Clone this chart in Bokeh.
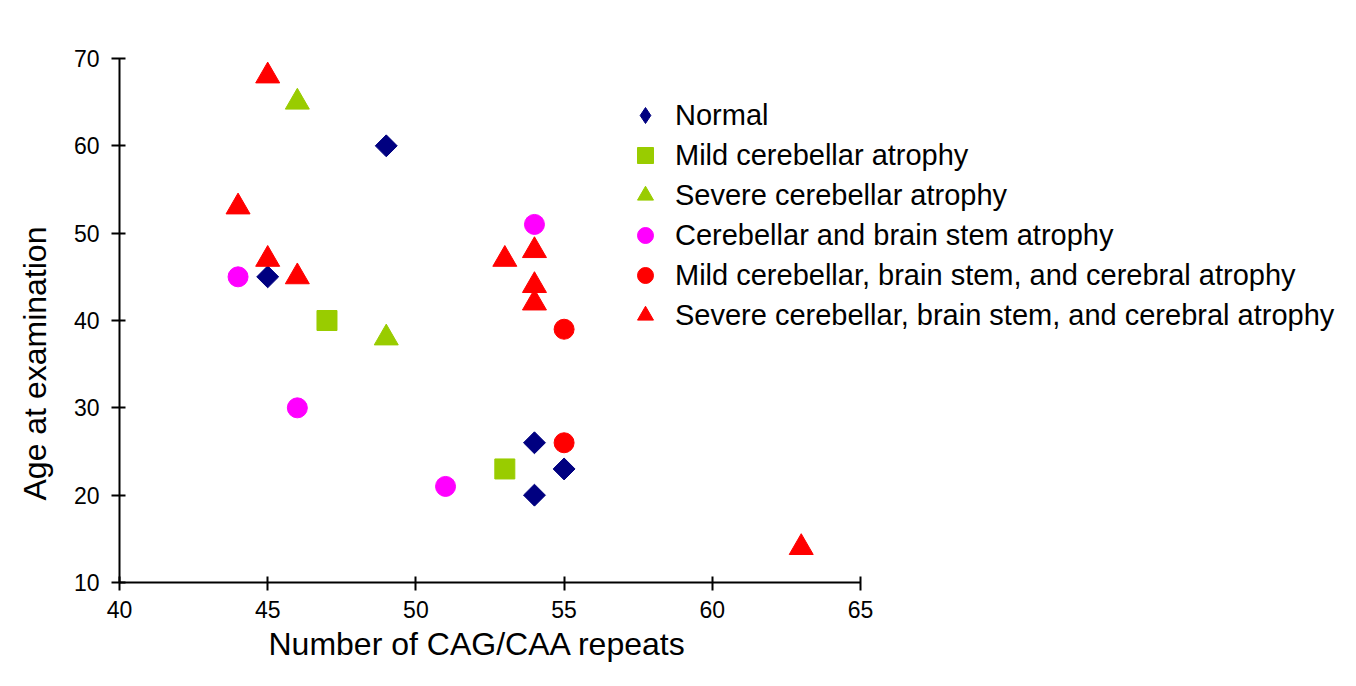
import math
from bokeh.plotting import figure
from bokeh.models import Range1d, FixedTicker, Legend, LegendItem, Title
from bokeh.embed import file_html
from bokeh.resources import INLINE

# Data
series_names = [
    "Normal",
    "Mild cerebellar atrophy",
    "Severe cerebellar atrophy",
    "Cerebellar and brain stem atrophy",
    "Mild cerebellar, brain stem, and cerebral atrophy",
    "Severe cerebellar, brain stem, and cerebral atrophy",
]
normal_x = [49, 45, 54, 55, 54]
normal_y = [60, 45, 26, 23, 20]
mild_cb_x = [47, 53]
mild_cb_y = [40, 23]
severe_cb_x = [46, 49]
severe_cb_y = [65, 38]
cb_bs_x = [44, 54, 46, 51]
cb_bs_y = [45, 51, 30, 21]
mild_all_x = [55, 55]
mild_all_y = [39, 26]
severe_all_x = [45, 44, 45, 46, 53, 54, 54, 54, 63]
severe_all_y = [68, 53, 47, 45, 47, 48, 44, 42, 14]

x_ticks = [40, 45, 50, 55, 60, 65]
y_ticks = [10, 20, 30, 40, 50, 60, 70]
x_axis_bounds = (40, 65)
x_label = "Number of CAG/CAA repeats"
y_label = "Age at examination"

FONT = "Liberation Sans"

W, H = 1340, 670
LEFT, TOP, BOTTOM, RIGHT = 119, 58, 88, 0
# keep 25 units over 741 px for the axis, frame extends to the right for the legend
px_per_unit = 741 / 25
x_end = 40 + (W - LEFT - RIGHT) / px_per_unit

p = figure(width=W, height=H, output_backend="svg", toolbar_location=None,
           x_range=Range1d(40, x_end), y_range=Range1d(10, 70),
           min_border_left=LEFT, min_border_right=RIGHT, min_border_top=TOP,
           min_border_bottom=BOTTOM)
p.outline_line_color = None
p.xgrid.visible = False
p.ygrid.visible = False
p.background_fill_color = "white"
p.border_fill_color = "white"

for ax, ticks in ((p.xaxis, x_ticks), (p.yaxis, y_ticks)):
    ax.ticker = FixedTicker(ticks=ticks)
    ax.minor_tick_line_color = None
    ax.axis_line_width = 2
    ax.axis_line_color = "black"
    ax.major_tick_line_width = 2
    ax.major_tick_line_color = "black"
    ax.major_tick_in = 6
    ax.major_tick_out = 8
    ax.major_label_text_font = FONT
    ax.major_label_text_font_size = "23px"
    ax.major_label_text_color = "black"

p.xaxis.bounds = x_axis_bounds
p.xaxis.major_label_standoff = 10
p.yaxis.major_label_standoff = 12

# axis titles placed as Titles so they can be offset like the reference
xt = Title(text=x_label, align="left", offset=149, standoff=6, vertical_align="bottom",
           text_font=FONT, text_font_size="32px", text_font_style="normal",
           text_color="black")
p.add_layout(xt, "below")
yt = Title(text=y_label, align="left", offset=82, standoff=31, vertical_align="top",
           text_font=FONT, text_font_size="32px", text_font_style="normal",
           text_color="black")
p.add_layout(yt, "left")

# legend proxy for the diamond (legend glyphs ignore marker angle); hidden under r1
r1_legend = p.scatter(normal_x[:1], normal_y[:1], marker="diamond", size=20, color="#000080")
r1 = p.scatter(normal_x, normal_y, marker="square", angle=math.pi / 4, size=15.5,
               color="#000080")
r2 = p.scatter(mild_cb_x, mild_cb_y, marker="square", size=20, color="#99CC00")
r3 = p.scatter(severe_cb_x, severe_cb_y, marker="triangle", size=24, color="#99CC00")
r4 = p.scatter(cb_bs_x, cb_bs_y, marker="circle", size=20, color="#FF00FF")
r5 = p.scatter(mild_all_x, mild_all_y, marker="circle", size=20, color="#FF0000")
r6 = p.scatter(severe_all_x, severe_all_y, marker="triangle", size=24, color="#FF0000")

renderers = [r1_legend, r2, r3, r4, r5, r6]
legend = Legend(items=[LegendItem(label=n, renderers=[r]) for n, r in zip(series_names, renderers)],
                location=(506, 247))
legend.border_line_alpha = 0
legend.background_fill_alpha = 0
legend.padding = 0
legend.margin = 0
legend.spacing = 0
legend.glyph_width = 40
legend.glyph_height = 40
legend.label_standoff = 10
legend.label_text_font = FONT
legend.label_text_font_size = "29px"
legend.label_text_color = "black"
p.add_layout(legend)

open("out.html", "w").write(file_html(p, INLINE))
